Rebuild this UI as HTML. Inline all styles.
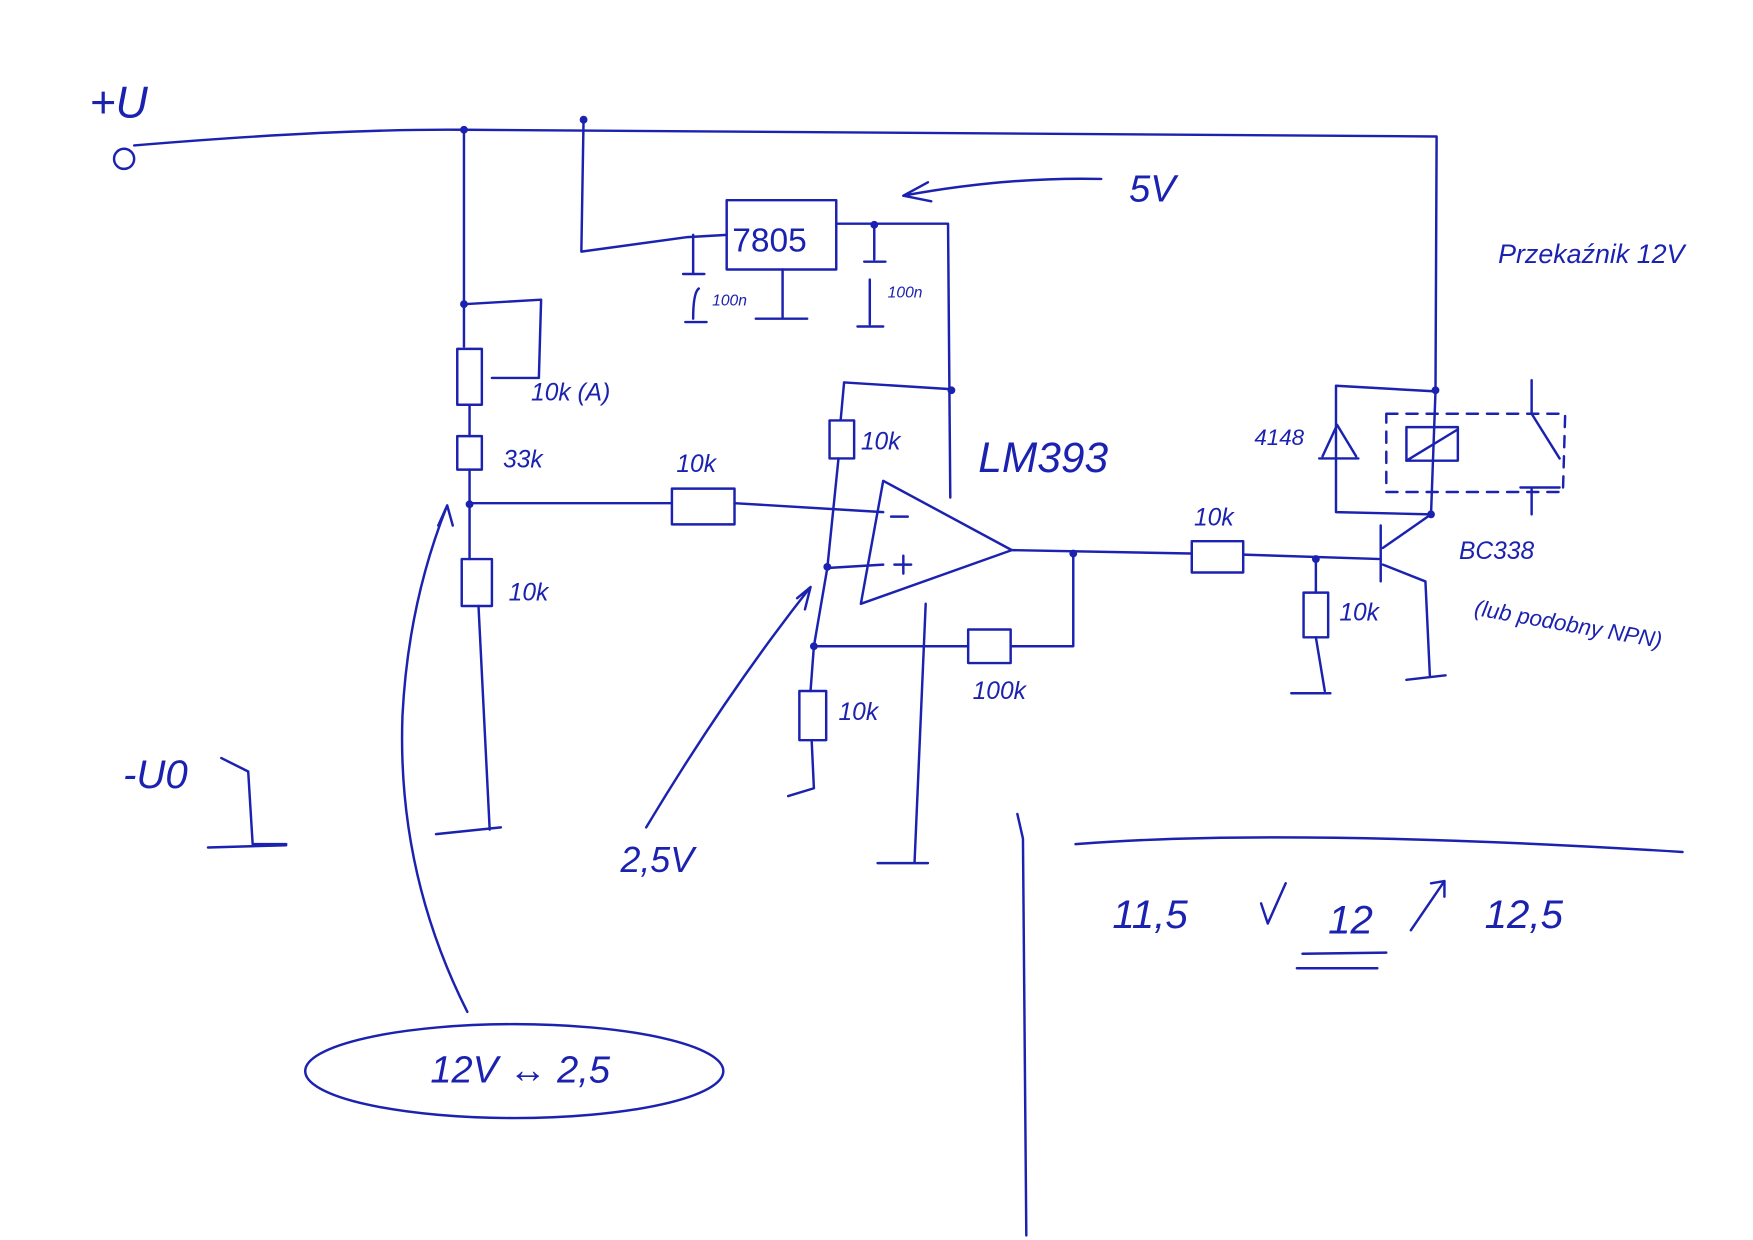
<!DOCTYPE html>
<html><head><meta charset="utf-8"><style>
html,body{margin:0;padding:0;background:#fff;width:1753px;height:1240px;overflow:hidden}
svg{display:block}
text{font-family:"Liberation Sans",sans-serif;fill:#1c22b0;font-style:italic}
</style></head><body>
<svg width="1753" height="1240" viewBox="0 0 1568 1109" xmlns="http://www.w3.org/2000/svg">
<g fill="none" stroke="#1c22b0" stroke-width="2.2" stroke-linecap="round" stroke-linejoin="round">
<!-- +U rail -->
<circle cx="111" cy="142" r="9"/>
<path d="M120 130 Q300 115 415 116 L1285 122 L1284 350"/>
<path d="M522 105 L520 225 L615 212 L650 210"/>
<!-- 7805 -->
<rect x="650" y="179" width="98" height="62"/>
<path d="M700 241 L700 285 M676 285 L722 285"/>
<path d="M748 200 L848 200 L850 445"/>
<path d="M620 210 L620 245 M611 245 L630 245 M625 258 Q620 262 620 285 M613 288 L632 288"/>
<path d="M782 200 L782 232 M773 234 L792 234 M778 250 L778 290 M767 292 L790 292"/>
<!-- 5V arrow -->
<path d="M985 160 Q900 158 808 175 M808 175 L830 163 M808 175 L833 180"/>
<!-- left divider -->
<path d="M415 116 L415 272 L484 268 L482 338 L440 338"/>
<path d="M415 272 L415 310"/>
<rect x="409" y="312" width="22" height="50"/>
<path d="M420 362 L420 390"/>
<rect x="409" y="390" width="22" height="30"/>
<path d="M420 420 L420 500"/>
<rect x="413" y="500" width="27" height="42"/>
<path d="M428 542 L438 742 M390 746 L448 740"/>
<!-- input line -->
<path d="M420 450 L600 450"/>
<rect x="601" y="437" width="56" height="32"/>
<path d="M657 450 L790 458"/>
<!-- op amp -->
<path d="M790 430 L905 492 L770 540 Z"/>
<path d="M797 462 L812 462 M800 505 L815 505 M808 497 L808 513"/>
<path d="M755 342 L850 348"/>
<path d="M755 342 L752 375"/>
<rect x="742" y="376" width="22" height="34"/>
<path d="M750 410 L740 508 L728 578 L725 618"/>
<path d="M740 508 L790 505"/>
<rect x="715" y="618" width="24" height="44"/>
<path d="M726 662 L728 705 L705 712"/>
<path d="M728 578 L866 578"/>
<rect x="866" y="563" width="38" height="30"/>
<path d="M904 578 L960 578 L960 495"/>
<path d="M905 492 L1065 495"/>
<path d="M828 540 L818 772 M785 772 L830 772"/>
<!-- transistor stage -->
<rect x="1066" y="484" width="46" height="28"/>
<path d="M1112 496 L1235 500"/>
<path d="M1177 500 L1177 530"/>
<rect x="1166" y="530" width="22" height="40"/>
<path d="M1177 570 L1185 618 M1155 620 L1190 620"/>
<path d="M1235 470 L1235 520 M1237 490 L1280 460 M1237 505 L1275 520 L1279 605 M1258 608 L1293 604"/>
<!-- relay + diode -->
<path d="M1284 350 L1195 345 L1195 458 L1280 460 L1284 350"/>
<path d="M1180 410 L1215 410 M1196 380 L1183 408 M1196 380 L1213 408"/>
<rect x="1258" y="382" width="46" height="30"/>
<path d="M1258 412 L1304 384"/>
<path stroke-dasharray="10 8" d="M1240 370 L1400 370 L1398 440 L1240 440 Z"/>
<path d="M1370 340 L1370 370 L1395 410 M1360 436 L1395 436 M1370 436 L1370 460"/>
<!-- -U0 -->
<path d="M198 678 L222 690 L226 755 L256 755 M186 758 L256 756"/>
<!-- arrows / annotations -->
<path d="M418 905 Q355 780 360 640 Q365 540 400 452 M392 470 L400 452 L405 470"/>
<path d="M578 740 Q650 620 725 525 M713 535 L725 525 L720 545"/>
<ellipse cx="460" cy="958" rx="187" ry="42"/>
<path d="M910 728 L915 750 L918 1105"/>
<path d="M962 755 Q1150 740 1505 762"/>
<path d="M1160 866 L1232 866 M1165 853 L1240 852"/>
<path d="M1134 826 L1150 790 M1134 826 L1128 808"/>
<path d="M1262 832 L1292 788 M1280 790 L1292 788 L1292 802"/>
</g>
<g fill="#1c22b0">
<circle cx="415" cy="116" r="3.5"/><circle cx="522" cy="107" r="3.5"/>
<circle cx="415" cy="272" r="3.5"/><circle cx="420" cy="451" r="3.5"/>
<circle cx="782" cy="201" r="3.5"/><circle cx="851" cy="349" r="3.5"/>
<circle cx="740" cy="507" r="3.5"/><circle cx="728" cy="578" r="3.5"/>
<circle cx="960" cy="495" r="3.5"/><circle cx="1177" cy="500" r="3.5"/>
<circle cx="1284" cy="349" r="3.5"/><circle cx="1280" cy="460" r="3.5"/>
</g>
<text x="80" y="105" font-size="40">+U</text>
<text x="655" y="225" font-size="30" style="font-style:normal">7805</text>
<text x="637" y="273" font-size="14">100n</text>
<text x="794" y="266" font-size="14">100n</text>
<text x="1010" y="180" font-size="34">5V</text>
<text x="475" y="358" font-size="22">10k (A)</text>
<text x="450" y="418" font-size="22">33k</text>
<text x="605" y="422" font-size="22">10k</text>
<text x="455" y="537" font-size="22">10k</text>
<text x="770" y="402" font-size="22">10k</text>
<text x="875" y="422" font-size="38">LM393</text>
<text x="750" y="644" font-size="22">10k</text>
<text x="870" y="625" font-size="22">100k</text>
<text x="1068" y="470" font-size="22">10k</text>
<text x="1198" y="555" font-size="22">10k</text>
<text x="1122" y="398" font-size="20">4148</text>
<text x="1340" y="235" font-size="24">Przekaźnik 12V</text>
<text x="1305" y="500" font-size="22">BC338</text>
<text x="1318" y="550" font-size="20" transform="rotate(10 1318 550)">(lub podobny NPN)</text>
<text x="110" y="705" font-size="36">-U0</text>
<text x="555" y="780" font-size="32">2,5V</text>
<text x="385" y="968" font-size="34">12V &#8596; 2,5</text>
<text x="995" y="830" font-size="36">11,5</text>
<text x="1188" y="835" font-size="36">12</text>
<text x="1328" y="830" font-size="36">12,5</text>
</svg>
</body></html>
